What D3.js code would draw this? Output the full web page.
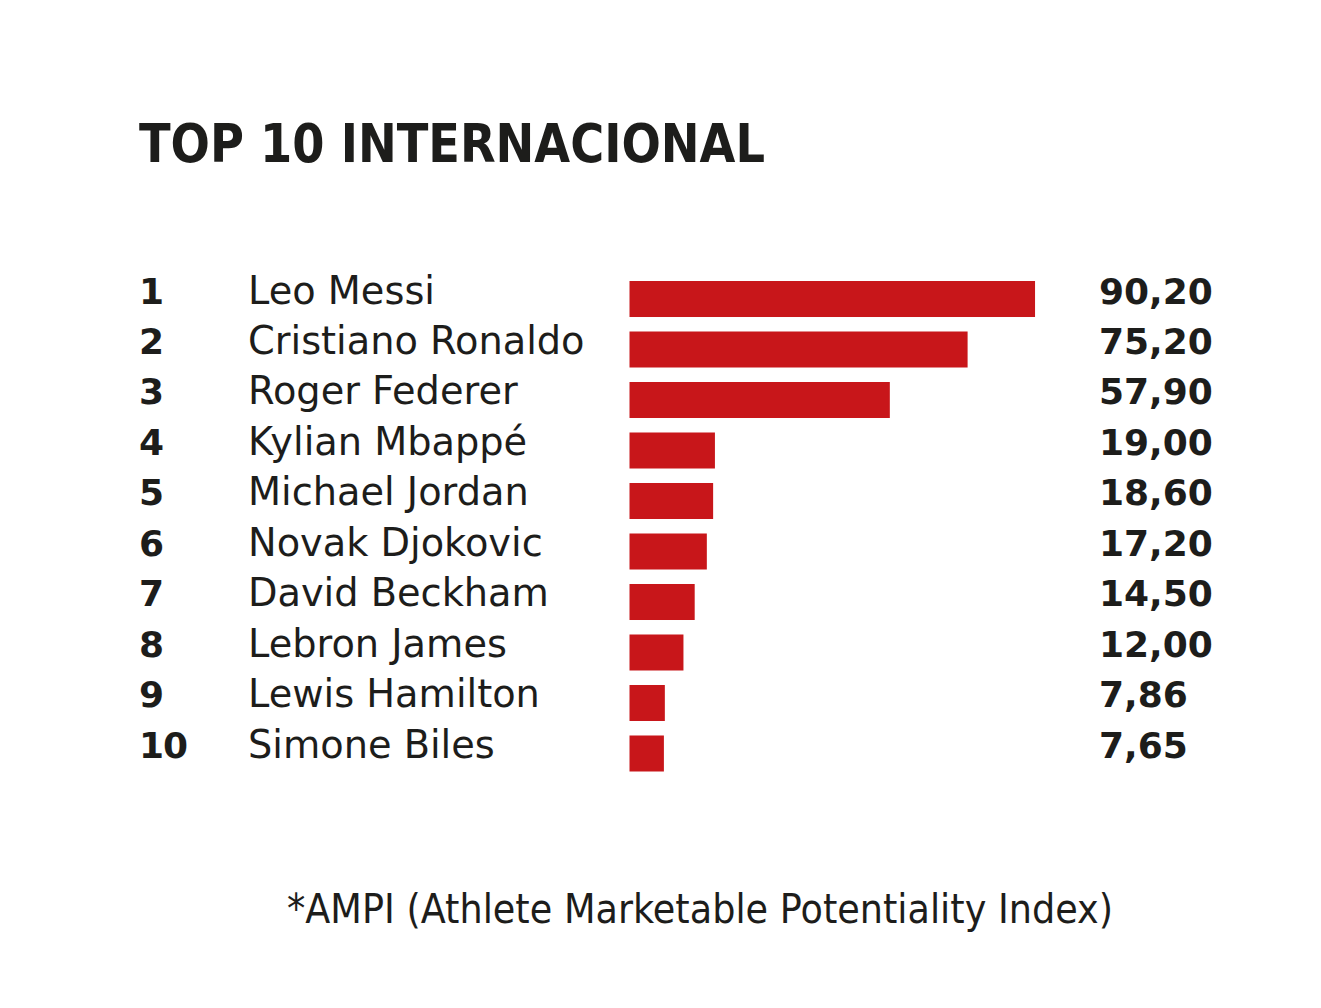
<!DOCTYPE html>
<html>
<head>
<meta charset="utf-8">
<script src="https://cdn.jsdelivr.net/npm/d3@7"></script>
<style>
  html, body { margin: 0; padding: 0; background: #ffffff; }
  svg { display: block; }
</style>
</head>
<body>
<svg id="chart" width="1321" height="1008"></svg>
<script>
const ranks = ["1", "2", "3", "4", "5", "6", "7", "8", "9", "10"];
const athletes = ["Leo Messi", "Cristiano Ronaldo", "Roger Federer", "Kylian Mbappé", "Michael Jordan",
                  "Novak Djokovic", "David Beckham", "Lebron James", "Lewis Hamilton", "Simone Biles"];
const ampiValues = [90.20, 75.20, 57.90, 19.00, 18.60, 17.20, 14.50, 12.00, 7.86, 7.65];
const valueLabels = ["90,20", "75,20", "57,90", "19,00", "18,60", "17,20", "14,50", "12,00", "7,86", "7,65"];
const titleText = "TOP 10 INTERNACIONAL";
const footnoteText = "*AMPI (Athlete Marketable Potentiality Index)";

const svg = d3.select("#chart");
const ink = "#1d1d1b";
const barColor = "#c8161a";

const y = d3.scaleBand()
  .domain(athletes)
  .range([281, 771.5])
  .paddingInner(0.287)
  .paddingOuter(0);

const x = d3.scaleLinear()
  .domain([0, 100])
  .range([629.5, 1079.1]);

// Title
svg.append("text")
  .attr("x", 139)
  .attr("y", 162)
  .attr("font-family", "'DejaVu Sans', sans-serif")
  .attr("font-weight", "bold")
  .attr("font-size", 54)
  .attr("fill", ink)
  .attr("textLength", 626)
  .attr("lengthAdjust", "spacingAndGlyphs")
  .text(titleText);

const rows = svg.append("g").selectAll("g")
  .data(athletes)
  .join("g");

rows.append("rect")
  .attr("x", x(0))
  .attr("y", d => y(d))
  .attr("width", (d, i) => x(ampiValues[i]) - x(0))
  .attr("height", y.bandwidth())
  .attr("fill", barColor);

rows.append("text")
  .attr("x", 139)
  .attr("y", d => y(d) + 22.5)
  .attr("font-family", "'DejaVu Sans', sans-serif")
  .attr("font-weight", "bold")
  .attr("font-size", 36)
  .attr("letter-spacing", -1)
  .attr("fill", ink)
  .text((d, i) => ranks[i]);

rows.append("text")
  .attr("x", 248)
  .attr("y", d => y(d) + 22.5)
  .attr("font-family", "'DejaVu Sans', sans-serif")
  .attr("font-size", 38.3)
  .attr("fill", ink)
  .text(d => d);

rows.append("text")
  .attr("x", 1099)
  .attr("y", d => y(d) + 22.5)
  .attr("font-family", "'DejaVu Sans', sans-serif")
  .attr("font-weight", "bold")
  .attr("font-size", 36)
  .attr("fill", ink)
  .text((d, i) => valueLabels[i]);

// Footnote
svg.append("text")
  .attr("x", 287)
  .attr("y", 923)
  .attr("font-family", "'DejaVu Sans', sans-serif")
  .attr("font-size", 40)
  .attr("fill", ink)
  .attr("textLength", 826)
  .attr("lengthAdjust", "spacingAndGlyphs")
  .text(footnoteText);
</script>
</body>
</html>
